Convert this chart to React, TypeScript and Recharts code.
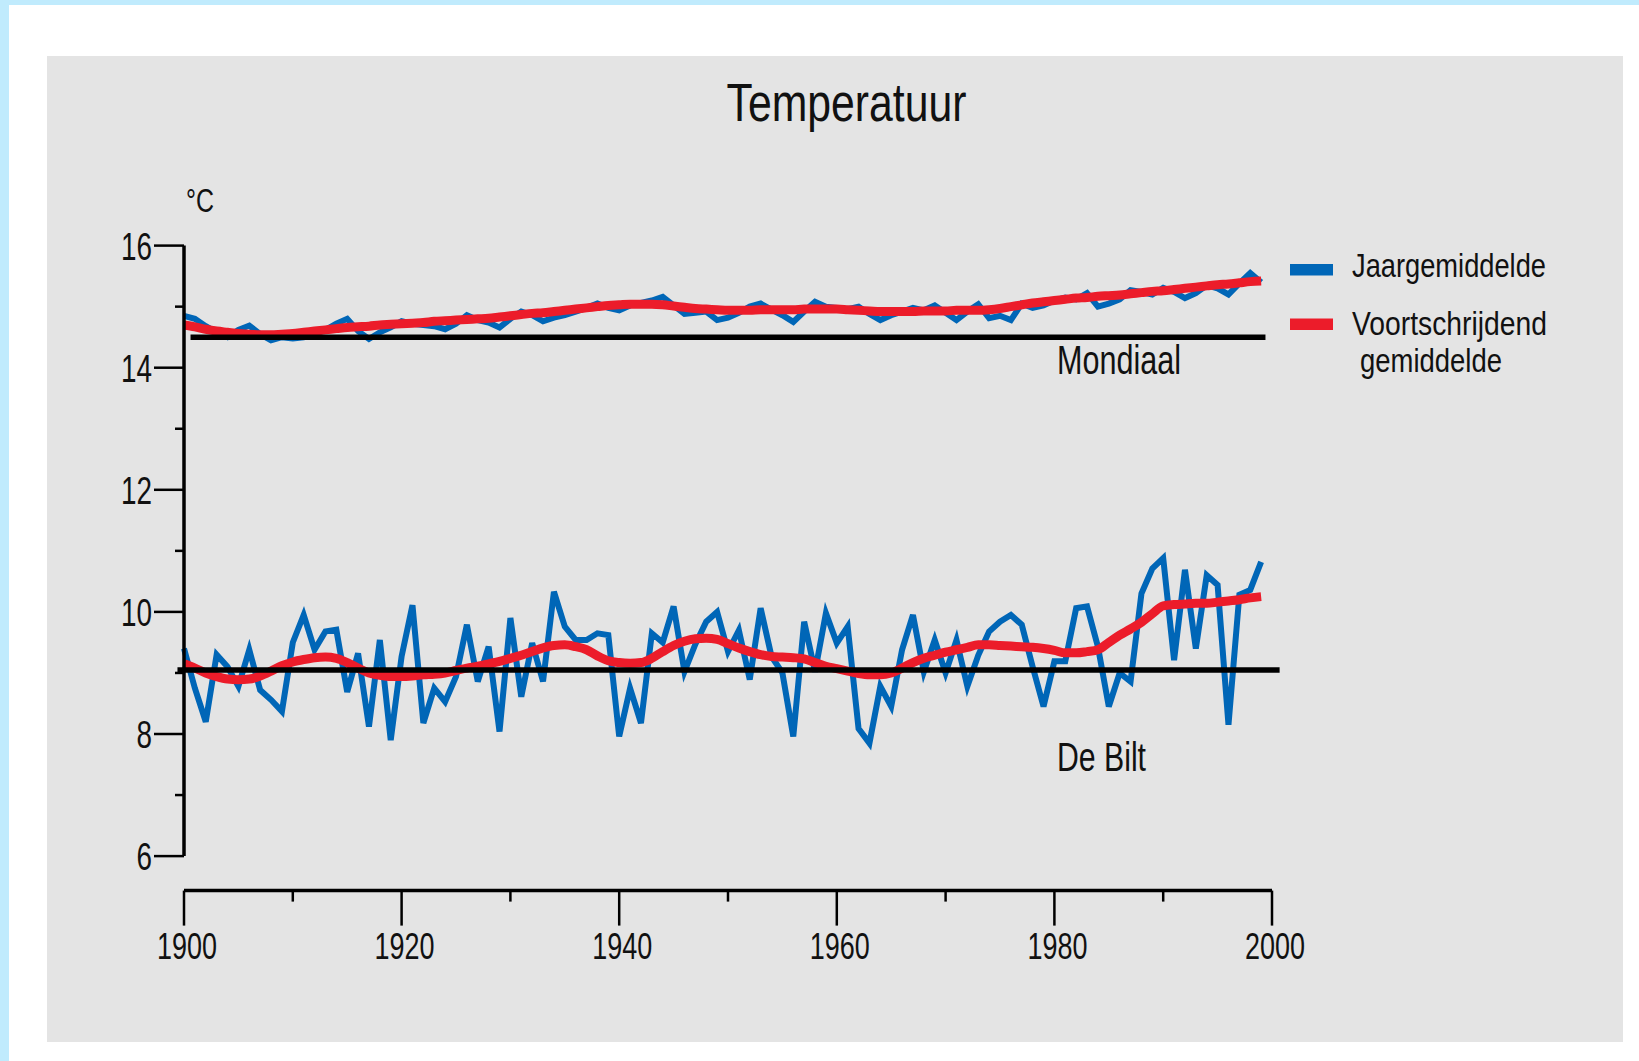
import { LineChart, Line, XAxis, YAxis, ReferenceLine, Legend } from 'recharts'

// jaren 1900..1999
const years = Array.from({ length: 100 }, (_, i) => 1900 + i)

// Mondiaal, jaargemiddelde (°C)
const mondiaalJaar = [
  14.85, 14.8, 14.68, 14.58, 14.5, 14.62, 14.69, 14.55, 14.45, 14.5,
  14.48, 14.5, 14.55, 14.62, 14.72, 14.8, 14.6, 14.47, 14.58, 14.66,
  14.76, 14.72, 14.7, 14.68, 14.63, 14.72, 14.86, 14.78, 14.74, 14.66,
  14.8, 14.92, 14.86, 14.76, 14.82, 14.86, 14.92, 14.98, 15.05, 14.98,
  14.94, 15.02, 15.06, 15.1, 15.16, 15.02, 14.88, 14.9, 14.92, 14.78,
  14.82, 14.9, 15.0, 15.05, 14.95, 14.86, 14.75, 14.92, 15.08, 15.0,
  14.98, 14.96, 15.0, 14.88, 14.78, 14.86, 14.92, 14.98, 14.94, 15.02,
  14.9, 14.78, 14.92, 15.04, 14.81, 14.85, 14.78, 15.05, 14.98, 15.02,
  15.1, 15.15, 15.12, 15.22, 15.0, 15.05, 15.12, 15.27, 15.24, 15.2,
  15.31, 15.24, 15.14, 15.22, 15.35, 15.3, 15.2, 15.38, 15.55, 15.4,
]

// Mondiaal, voortschrijdend gemiddelde
const mondiaalGem = [
  14.7, 14.67, 14.63, 14.6, 14.58, 14.56, 14.55, 14.54, 14.54, 14.55,
  14.56, 14.58, 14.6, 14.62, 14.64, 14.66, 14.67, 14.68, 14.7, 14.71,
  14.72, 14.73, 14.74, 14.76, 14.77, 14.78, 14.79, 14.8, 14.81, 14.83,
  14.85, 14.87, 14.89, 14.9, 14.92, 14.94, 14.96, 14.98, 15.0, 15.02,
  15.03, 15.04, 15.04, 15.04, 15.03, 15.01, 14.99, 14.97, 14.96, 14.95,
  14.94, 14.94, 14.94, 14.95, 14.95, 14.95, 14.95, 14.96, 14.96, 14.96,
  14.96, 14.95, 14.94, 14.93, 14.92, 14.92, 14.92, 14.92, 14.93, 14.93,
  14.93, 14.94, 14.94, 14.94, 14.95, 14.97, 15.0, 15.03, 15.06, 15.08,
  15.1, 15.12, 15.14, 15.15, 15.17, 15.18, 15.19, 15.21, 15.23, 15.25,
  15.26, 15.28, 15.3, 15.32, 15.34, 15.36, 15.37, 15.39, 15.41, 15.42,
]

// De Bilt, jaargemiddelde
const deBiltJaar = [
  9.4, 8.75, 8.2, 9.3, 9.1, 8.78, 9.38, 8.72, 8.56, 8.37,
  9.5, 9.95, 9.38, 9.68, 9.71, 8.69, 9.32, 8.12, 9.54, 7.9,
  9.27, 10.11, 8.18, 8.75, 8.53, 8.94, 9.79, 8.86, 9.43, 8.04,
  9.9, 8.61, 9.49, 8.86, 10.33, 9.76, 9.54, 9.54, 9.65, 9.62,
  7.96, 8.75, 8.18, 9.65, 9.5, 10.09, 9.02, 9.47, 9.84, 10.0,
  9.35, 9.7, 8.89, 10.06, 9.27, 9.0, 7.96, 9.84, 9.02, 9.98,
  9.49, 9.76, 8.09, 7.85, 8.78, 8.45, 9.38, 9.95, 9.02, 9.54,
  9.0, 9.54, 8.78, 9.29, 9.68, 9.84, 9.95, 9.79, 9.1, 8.45,
  9.19, 9.19, 10.06, 10.09, 9.43, 8.45, 9.0, 8.86, 10.3, 10.71,
  10.88, 9.21, 10.69, 9.4, 10.6, 10.44, 8.15, 10.28, 10.36, 10.82,
]

// De Bilt, voortschrijdend gemiddelde
const deBiltGem = [
  9.15, 9.08, 9.0, 8.94, 8.9, 8.89, 8.9, 8.95, 9.03, 9.12,
  9.18, 9.22, 9.25, 9.26, 9.24, 9.17, 9.08, 9.0, 8.96, 8.94,
  8.94, 8.95, 8.97, 8.98, 9.0, 9.04, 9.08, 9.11, 9.15, 9.19,
  9.24, 9.29, 9.35, 9.41, 9.45, 9.46, 9.43, 9.38, 9.28, 9.2,
  9.17, 9.16, 9.17, 9.24, 9.35, 9.45, 9.52, 9.56, 9.57, 9.55,
  9.48, 9.41, 9.35, 9.3, 9.27, 9.26, 9.25, 9.23, 9.17, 9.11,
  9.07, 9.03, 8.99, 8.97, 8.97, 9.0, 9.08, 9.17, 9.24, 9.29,
  9.34, 9.38, 9.42, 9.46, 9.46, 9.45, 9.44, 9.43, 9.42, 9.4,
  9.37, 9.33, 9.33, 9.35, 9.38, 9.5, 9.62, 9.72, 9.83, 9.97,
  10.1, 10.12, 10.13, 10.14, 10.14, 10.16, 10.18, 10.2, 10.23, 10.25,
]

const xTicks = [1900, 1910, 1920, 1930, 1940, 1950, 1960, 1970, 1980, 1990, 2000]
const yTicks = [6, 7, 8, 9, 10, 11, 12, 13, 14, 15, 16]
const mondiaalRef = 14.5
const deBiltRef = 9.05

const BLUE = '#0066b7'
const RED = '#ec1c2a'
const FONT = "'Liberation Sans Narrow', 'Liberation Sans', Arial, sans-serif"

const data = years.map((year, i) => ({
  year,
  mondiaalJaar: mondiaalJaar[i],
  mondiaalGem: mondiaalGem[i],
  deBiltJaar: deBiltJaar[i],
  deBiltGem: deBiltGem[i],
}))

const YTick = (props: any) => {
  const { x, y, payload } = props
  const v = payload.value as number
  const major = v % 2 === 0
  const label = String(v)
  return (
    <g>
      <line x1={x - (major ? 30 : 9)} x2={x} y1={y} y2={y} stroke="#000" strokeWidth={2.5} />
      {major && (
        <text x={x - 32} y={y + 14} textAnchor="end" fontSize={39} fontFamily={FONT} fill="#111"
          textLength={label.length * 15.5} lengthAdjust="spacingAndGlyphs">
          {label}
        </text>
      )}
    </g>
  )
}

const XTick = (props: any) => {
  const { x, y, payload } = props
  const v = payload.value as number
  const major = v % 20 === 0
  return (
    <g>
      <line x1={x} x2={x} y1={y} y2={y + (major ? 35 : 11)} stroke="#000" strokeWidth={2.5} />
      {major && (
        <text x={x + 3} y={y + 68} textAnchor="middle" fontSize={36} fontFamily={FONT} fill="#111"
          textLength={60} lengthAdjust="spacingAndGlyphs">
          {v}
        </text>
      )}
    </g>
  )
}

const LegendBox = () => (
  <svg width={340} height={140} style={{ display: 'block', overflow: 'visible' }}>
    <rect x={0} y={14} width={43} height={11.5} fill={BLUE} />
    <text x={62} y={27} fontSize={34} fontFamily={FONT} fill="#111" textLength={194} lengthAdjust="spacingAndGlyphs">
      Jaargemiddelde
    </text>
    <rect x={0} y={68.5} width={43} height={11.5} fill={RED} />
    <text x={62} y={85} fontSize={34} fontFamily={FONT} fill="#111" textLength={195} lengthAdjust="spacingAndGlyphs">
      Voortschrijdend
    </text>
    <text x={70} y={122} fontSize={34} fontFamily={FONT} fill="#111" textLength={142} lengthAdjust="spacingAndGlyphs">
      gemiddelde
    </text>
  </svg>
)

export default function App() {
  return (
    <div style={{ position: 'absolute', left: 0, top: 0, width: 1639, height: 1061, background: '#c0ebfd', overflow: 'hidden' }}>
      <div style={{ position: 'absolute', left: 9, top: 5, width: 1630, height: 1056, background: '#fff' }} />
      <div style={{ position: 'absolute', left: 47, top: 56, width: 1576, height: 986, background: '#e4e4e4' }} />
      <div style={{ position: 'absolute', left: 0, top: 0 }}>
        <LineChart width={1639} height={1061} data={data}
          margin={{ top: 245.6, right: 367, bottom: 70.4, left: 64 }}>
          <XAxis dataKey="year" type="number" domain={[1900, 2000]} ticks={xTicks} interval={0}
            height={100} tickSize={0} tickMargin={0} tick={<XTick />}
            axisLine={{ stroke: '#000', strokeWidth: 3.5 }} />
          <YAxis type="number" domain={[5.435, 16]} ticks={yTicks} interval={0} allowDataOverflow
            width={120} tickSize={0} tickMargin={0} tick={<YTick />} axisLine={false} />
          <Line type="linear" dataKey="mondiaalJaar" stroke={BLUE} strokeWidth={6} dot={false} isAnimationActive={false} />
          <Line type="linear" dataKey="deBiltJaar" stroke={BLUE} strokeWidth={6} dot={false} isAnimationActive={false} />
          <Line type="monotone" dataKey="mondiaalGem" stroke={RED} strokeWidth={9} dot={false} isAnimationActive={false} />
          <Line type="monotone" dataKey="deBiltGem" stroke={RED} strokeWidth={9} dot={false} isAnimationActive={false} />
          <ReferenceLine segment={[{ x: 1900, y: 6 }, { x: 1900, y: 16 }]} stroke="#000" strokeWidth={3.5} ifOverflow="visible" />
          <ReferenceLine segment={[{ x: 1900.6, y: mondiaalRef }, { x: 1999.4, y: mondiaalRef }]} stroke="#000" strokeWidth={5.5} ifOverflow="visible" />
          <ReferenceLine segment={[{ x: 1899.4, y: deBiltRef }, { x: 2000.7, y: deBiltRef }]} stroke="#000" strokeWidth={5.5} ifOverflow="visible" />
          <Legend layout="horizontal" verticalAlign="middle" align="center" content={<LegendBox />}
            wrapperStyle={{ position: 'absolute', left: 1290, top: 250, width: 340, height: 140 }} />
        </LineChart>
      </div>
      <svg width={1639} height={1061} style={{ position: 'absolute', left: 0, top: 0, pointerEvents: 'none' }}>
        <text x={726.5} y={121} fontSize={53} fontFamily={FONT} fill="#111" textLength={240} lengthAdjust="spacingAndGlyphs">
          Temperatuur
        </text>
        <text x={186} y={212} fontSize={33} fontFamily={FONT} fill="#111" textLength={28} lengthAdjust="spacingAndGlyphs">
          °C
        </text>
        <text x={1057} y={374} fontSize={40} fontFamily={FONT} fill="#111" textLength={124} lengthAdjust="spacingAndGlyphs">
          Mondiaal
        </text>
        <text x={1057} y={771} fontSize={40} fontFamily={FONT} fill="#111" textLength={89} lengthAdjust="spacingAndGlyphs">
          De Bilt
        </text>
      </svg>
    </div>
  )
}
